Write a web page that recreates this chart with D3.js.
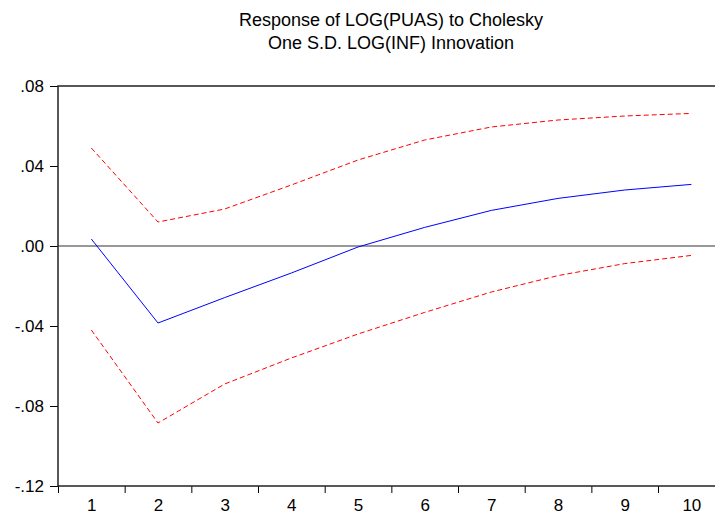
<!DOCTYPE html>
<html>
<head>
<meta charset="utf-8">
<script src="https://cdn.jsdelivr.net/npm/d3@7"></script>
<style>
  html, body { margin: 0; padding: 0; background: #fff; }
  svg { display: block; }
  text { font-family: "Liberation Sans", Arial, sans-serif; fill: #000; }
</style>
</head>
<body>
<svg id="chart" width="715" height="515"></svg>
<script>
const periods = [1, 2, 3, 4, 5, 6, 7, 8, 9, 10];
const response = [0.0035, -0.0385, -0.0258, -0.0135, -0.0005, 0.0093, 0.0178, 0.0238, 0.0280, 0.0308];
const upper = [0.0490, 0.0120, 0.0185, 0.0305, 0.0430, 0.0530, 0.0595, 0.0630, 0.0650, 0.0663];
const lower = [-0.0420, -0.0885, -0.0690, -0.0560, -0.0440, -0.0332, -0.0230, -0.0148, -0.0088, -0.0047];
const yTicks = [0.08, 0.04, 0.00, -0.04, -0.08, -0.12];
const yTickLabels = [".08", ".04", ".00", "-.04", "-.08", "-.12"];
const titleLines = ["Response of LOG(PUAS) to Cholesky", "One S.D. LOG(INF) Innovation"];

(function () {
const svg = d3.select("#chart");
const pLeft = 58, pTop = 86, pBottom = 486, bandW = 66.67;
const pRight = pLeft + bandW * periods.length;

const x = d3.scaleLinear().domain([0.5, 10.5]).range([pLeft, pRight]);
const y = d3.scaleLinear().domain([-0.12, 0.08]).range([pBottom, pTop]);

// Title
svg.append("g").selectAll("text").data(titleLines).join("text")
  .attr("x", 391).attr("y", (d, i) => 26 + i * 23)
  .attr("text-anchor", "middle")
  .style("font-size", "18px")
  .text(d => d);

// Y axis
const yAxis = d3.axisLeft(y).tickValues(yTicks).tickSize(8).tickPadding(6)
  .tickFormat((d, i) => yTickLabels[i]);
const gy = svg.append("g").attr("transform", `translate(${pLeft},0)`).call(yAxis);
gy.select(".domain").remove();
gy.selectAll(".tick line").attr("stroke", "#000");
gy.selectAll(".tick text").style("font-size", "17px").style("font-family", "'Liberation Sans', Arial, sans-serif");

// X axis ticks at band boundaries
const boundaries = d3.range(0.5, 11, 1);
const xTickAxis = d3.axisBottom(x).tickValues(boundaries).tickSize(7).tickFormat("");
const gx = svg.append("g").attr("transform", `translate(0,${pBottom})`).call(xTickAxis);
gx.select(".domain").remove();
gx.selectAll(".tick line").attr("stroke", "#000");

// X labels at centers
const xLabelAxis = d3.axisBottom(x).tickValues(periods).tickSize(0).tickPadding(13).tickFormat(d3.format("d"));
const gxl = svg.append("g").attr("transform", `translate(0,${pBottom})`).call(xLabelAxis);
gxl.select(".domain").remove();
gxl.selectAll(".tick text").style("font-size", "17px").style("font-family", "'Liberation Sans', Arial, sans-serif");

// Frame
svg.append("rect")
  .attr("x", pLeft).attr("y", pTop)
  .attr("width", pRight - pLeft).attr("height", pBottom - pTop)
  .attr("fill", "none").attr("stroke", "#222").attr("stroke-width", 1.5);

// Zero line
svg.append("line")
  .attr("x1", pLeft).attr("x2", pRight)
  .attr("y1", y(0)).attr("y2", y(0))
  .attr("stroke", "#333").attr("stroke-width", 1.2);

const line = d3.line().x((d, i) => x(periods[i])).y(d => y(d));

svg.append("path").datum(upper).attr("d", line)
  .attr("fill", "none").attr("stroke", "#ff0000").attr("stroke-width", 1)
  .attr("stroke-dasharray", "5,3");
svg.append("path").datum(lower).attr("d", line)
  .attr("fill", "none").attr("stroke", "#ff0000").attr("stroke-width", 1)
  .attr("stroke-dasharray", "5,3");
svg.append("path").datum(response).attr("d", line)
  .attr("fill", "none").attr("stroke", "#0000ff").attr("stroke-width", 1);
})();
</script>
</body>
</html>
